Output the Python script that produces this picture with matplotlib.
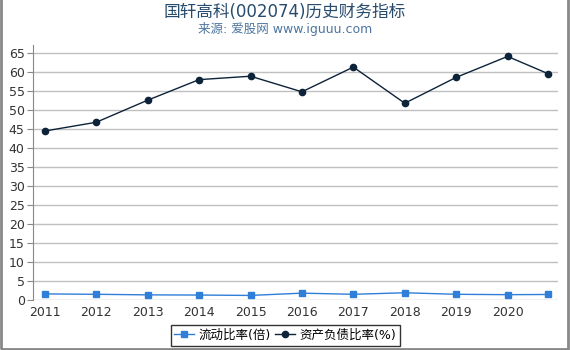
import matplotlib.pyplot as plt
from matplotlib.patches import Rectangle

plt.rcParams['font.family'] = ['DejaVu Sans', 'Noto Sans CJK SC']

# x positions (last point is a partial year, no tick label)
years = [2011, 2012, 2013, 2014, 2015, 2016, 2017, 2018, 2019, 2020, 2020.78]
tick_years = [2011, 2012, 2013, 2014, 2015, 2016, 2017, 2018, 2019, 2020]
current_ratio = [1.6, 1.5, 1.35, 1.3, 1.2, 1.8, 1.5, 1.9, 1.5, 1.4, 1.45]
debt_ratio = [44.4, 46.7, 52.5, 57.9, 58.8, 54.7, 61.2, 51.7, 58.5, 64.0, 59.5]

fig = plt.figure(figsize=(5.7, 3.5), dpi=100)
ax = fig.add_axes([33 / 570, 50 / 350, 525 / 570, 255 / 350])

# gray frame round the picture
fig.patches.append(Rectangle((0.002, 0.004), 0.994, 1.2, transform=fig.transFigure,
                             fill=False, edgecolor='#888888', linewidth=2))

ax.plot(years, current_ratio, color='#2f7ed8', marker='s', markersize=4.5,
        linewidth=1, label='流动比率(倍)')
ax.plot(years, debt_ratio, color='#0d233a', marker='o', markersize=4.5,
        linewidth=1, label='资产负债比率(%)')

ax.set_xlim(2010.77, 2020.98)
ax.set_ylim(0, 67)
ax.set_yticks(range(0, 66, 5))
ax.set_xticks(tick_years)
ax.set_xticklabels([str(y) for y in tick_years])
ax.grid(axis='y', color='#c0c0c0', linewidth=1)
ax.set_axisbelow(True)
for s in ['top', 'right', 'bottom']:
    ax.spines[s].set_visible(False)
ax.spines['left'].set_color('#888888')
ax.tick_params(axis='y', length=4, color='#888888', labelsize=9, labelcolor='#333333', pad=2)
ax.tick_params(axis='x', length=0, labelsize=9, labelcolor='#333333', pad=4)

fig.text(0.5, 0.965, '国轩高科(002074)历史财务指标', ha='center', va='center',
         fontsize=12, color='#274b6d')
fig.text(0.5, 0.918, '来源: 爱股网 www.iguuu.com', ha='center', va='center',
         fontsize=9, color='#4d759e')

leg = fig.legend(loc='center', bbox_to_anchor=(0.5, 0.042), ncol=2, fontsize=9,
                 frameon=True, fancybox=False, handlelength=1.6, handletextpad=0.3,
                 columnspacing=0.4, borderpad=0.3)
leg.get_frame().set_edgecolor('black')
leg.get_frame().set_linewidth(1)

fig.savefig('out.png', dpi=100)
